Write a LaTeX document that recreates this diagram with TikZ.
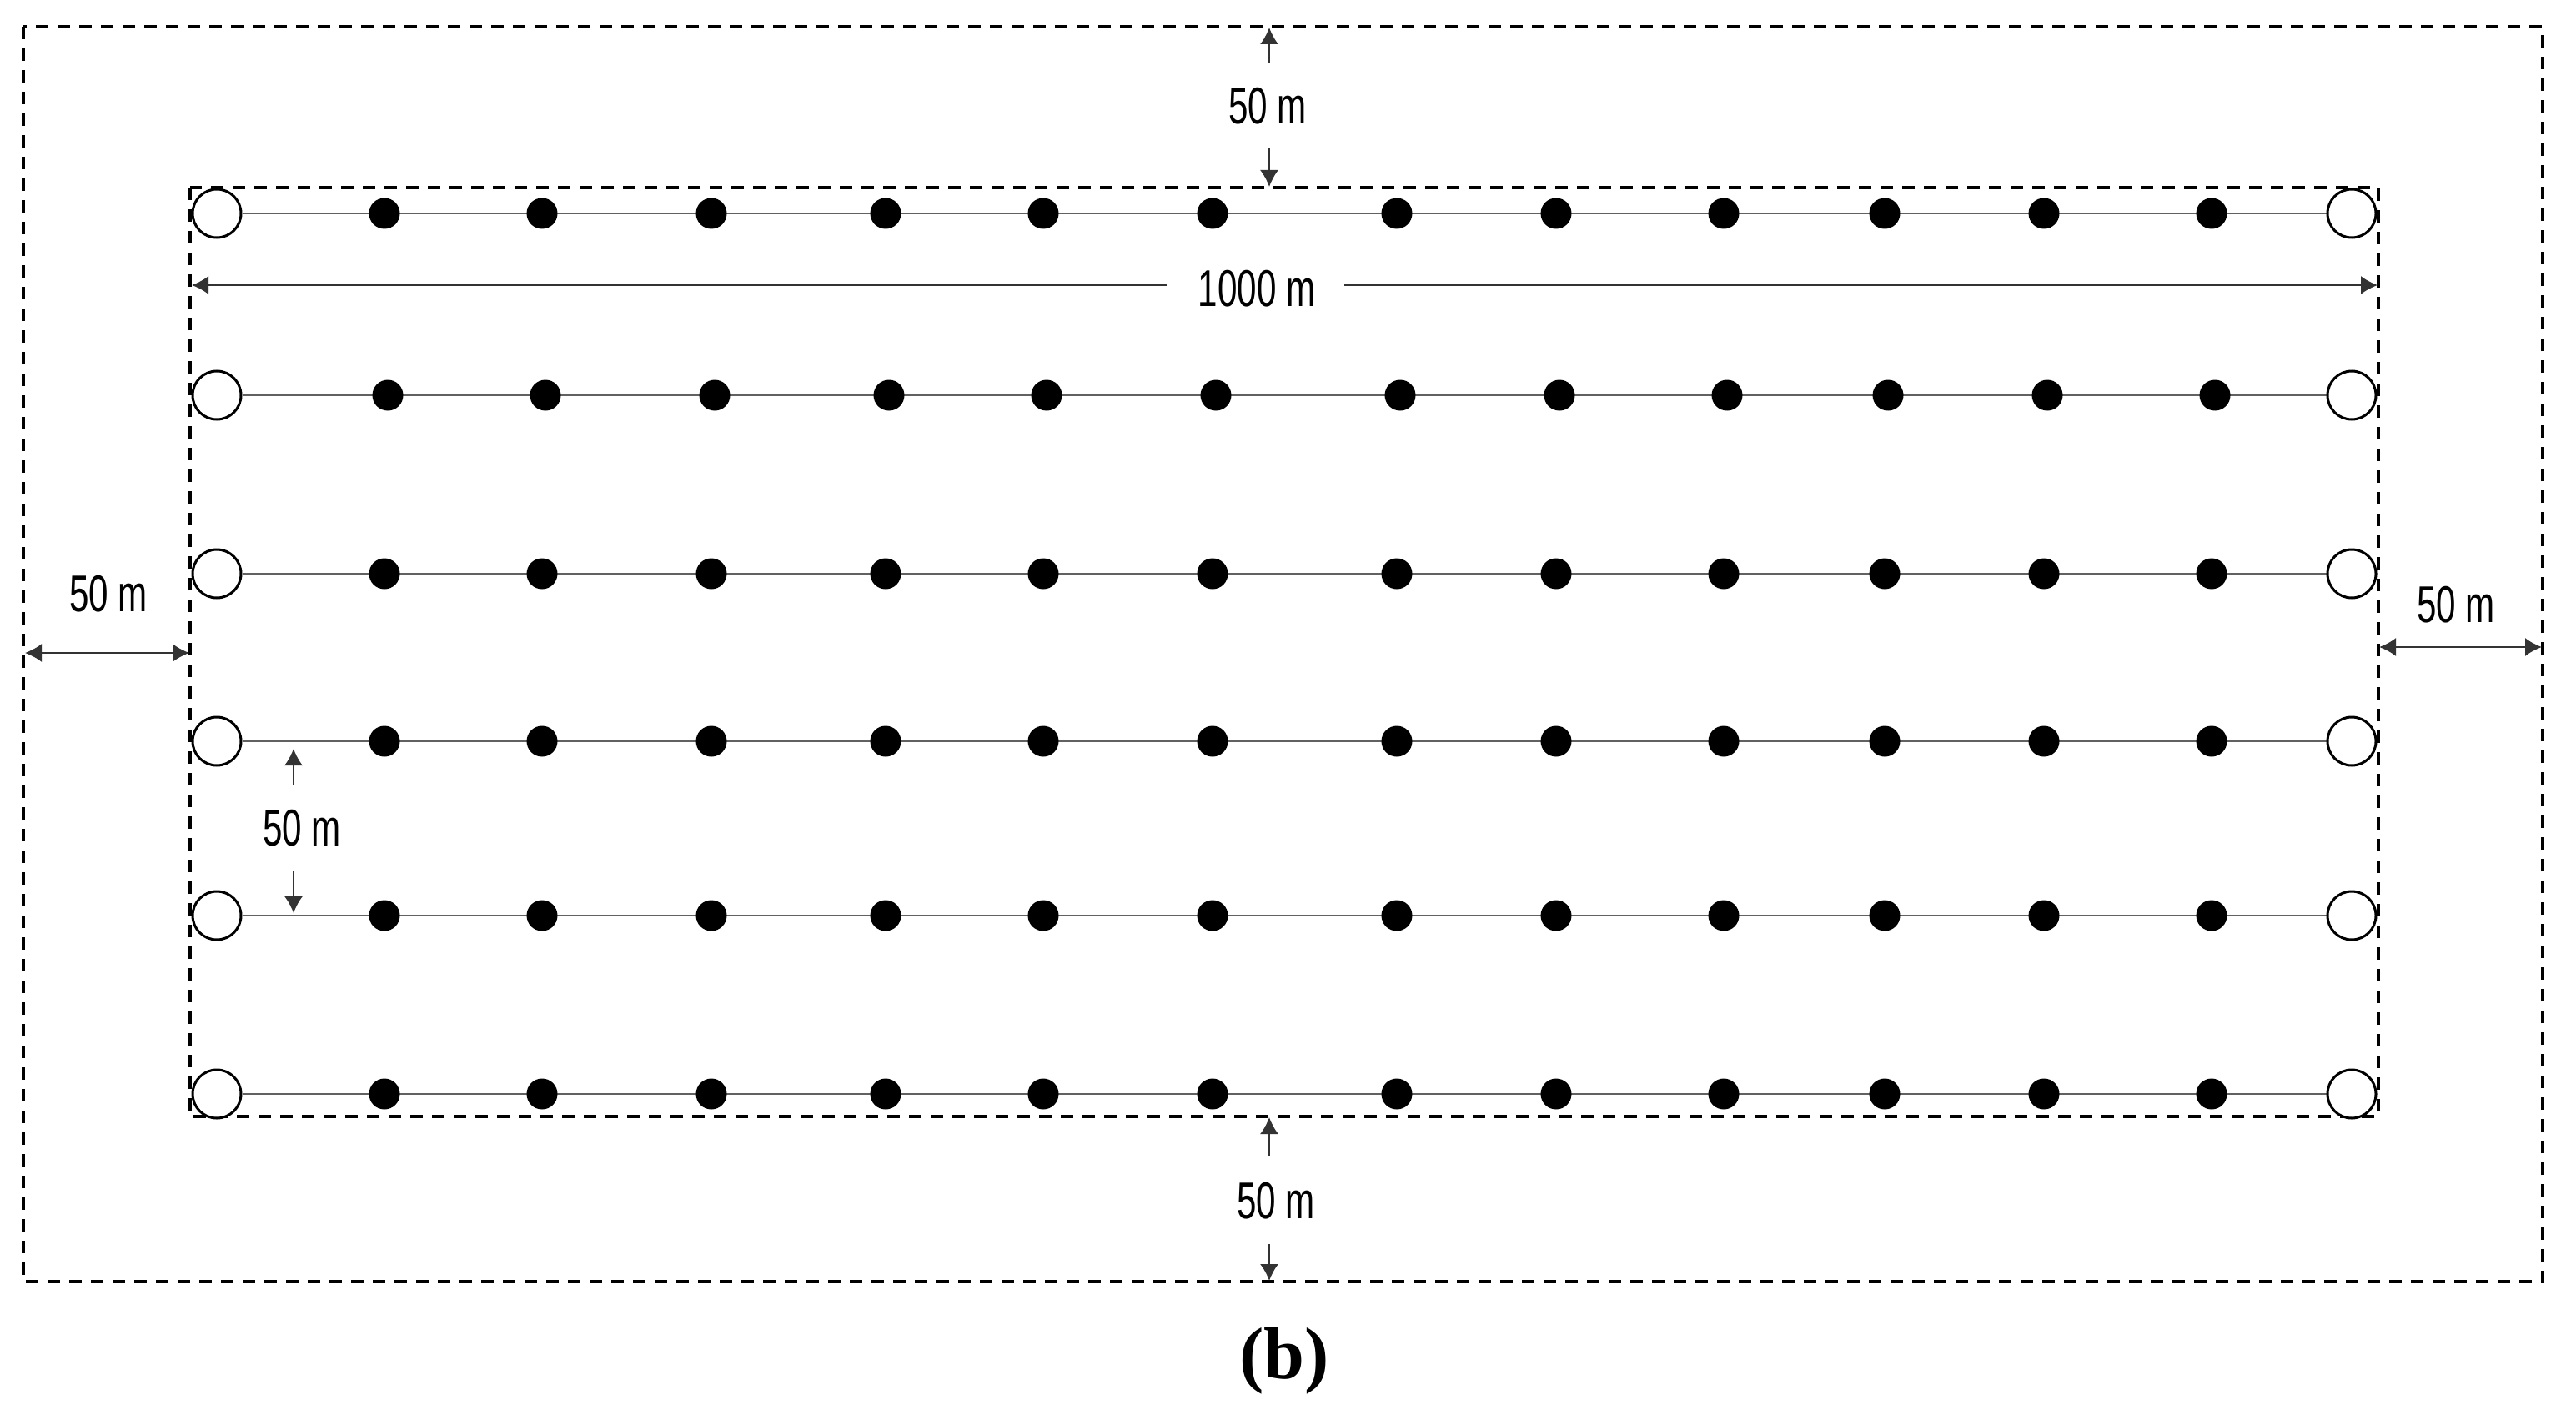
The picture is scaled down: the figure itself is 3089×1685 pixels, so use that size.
\documentclass[tikz,border=0pt]{standalone}
\usepackage{fontspec}
\setmainfont{Liberation Serif}
\newfontfamily\dimfont[FakeStretch=0.68]{Liberation Sans}
\usetikzlibrary{arrows.meta,backgrounds}
\tikzset{
  bound/.style={dash pattern=on 7.5pt off 5.5pt, line width=1.75pt},
  well/.style={circle, draw, line width=1.5pt, fill=white, minimum size=29pt, inner sep=0pt},
  dotn/.style={circle, fill=black, minimum size=18.5pt, inner sep=0pt},
  rowline/.style={draw=black!62, line width=1.3pt},
  dimarrow/.style={line width=1pt, draw=black!80, -{Latex[length=10pt,width=11pt]}},
  dimboth/.style={line width=1pt, draw=black!80, {Latex[length=10pt,width=11pt]}-{Latex[length=10pt,width=11pt]}},
  lab/.style={font=\dimfont\fontsize{31}{31}\selectfont, inner sep=0pt},
}
\begin{document}
\begin{tikzpicture}[x=0.5pt,y=-0.5pt]
\useasboundingbox (0,0) rectangle (3089,1685);
% boundaries
\coordinate (O1) at (28,32);
\coordinate (O2) at (3049,1537);
\coordinate (I1) at (228,225);
\coordinate (I2) at (2852,1339);
\draw[bound] (O1) rectangle (O2);
\draw[bound] (I1) rectangle (I2);
% rows
\foreach \r/\y/\dx in {1/256/0,2/474/4,3/688/0,4/889/0,5/1098/0,6/1312/0} {
  \node[well] (L\r) at (260,\y) {};
  \node[well] (R\r) at (2820,\y) {};
  \foreach \c/\x in {1/461,2/650,3/853,4/1062,5/1251,6/1454,7/1675,8/1866,9/2067,10/2260,11/2451,12/2652} {
    \node[dotn] (D\r-\c) at (\x+\dx,\y) {};
  }
  \begin{scope}[on background layer]
    \draw[rowline] (L\r) -- (R\r);
  \end{scope}
}
% top 50 m
\node[lab] (ltop) at (1520,127) {50 m};
\coordinate (ta) at (1522,75);  \coordinate (tat) at (1522,33);
\coordinate (tb) at (1522,178); \coordinate (tbt) at (1522,224);
\draw[dimarrow] (ta) -- (tat);
\draw[dimarrow] (tb) -- (tbt);
% bottom 50 m
\node[lab] (lbot) at (1530,1440) {50 m};
\coordinate (ba) at (1522,1386); \coordinate (bat) at (1522,1340);
\coordinate (bb) at (1522,1492); \coordinate (bbt) at (1522,1536);
\draw[dimarrow] (ba) -- (bat);
\draw[dimarrow] (bb) -- (bbt);
% left 50 m
\node[lab] (lleft) at (130,712) {50 m};
\coordinate (la) at (30,783); \coordinate (lb) at (227,783);
\draw[dimboth] (la) -- (lb);
% right 50 m
\node[lab] (lright) at (2945,725) {50 m};
\coordinate (ra) at (2853,776); \coordinate (rb) at (3048,776);
\draw[dimboth] (ra) -- (rb);
% row spacing 50 m
\node[lab] (lrow) at (362,993) {50 m};
\coordinate (sa) at (352,942);  \coordinate (sat) at (352,898);
\coordinate (sb) at (352,1045); \coordinate (sbt) at (352,1095);
\draw[dimarrow] (sa) -- (sat);
\draw[dimarrow] (sb) -- (sbt);
% 1000 m
\node[lab] (lk) at (1507,346) {1000 m};
\coordinate (ka) at (1400,342); \coordinate (kat) at (230,342);
\coordinate (kb) at (1612,342); \coordinate (kbt) at (2851,342);
\draw[dimarrow] (ka) -- (kat);
\draw[dimarrow] (kb) -- (kbt);
% caption
\node[font=\bfseries\fontsize{44}{44}\selectfont, inner sep=0pt] (cap) at (1540,1632) {(b)};
\end{tikzpicture}
\end{document}
